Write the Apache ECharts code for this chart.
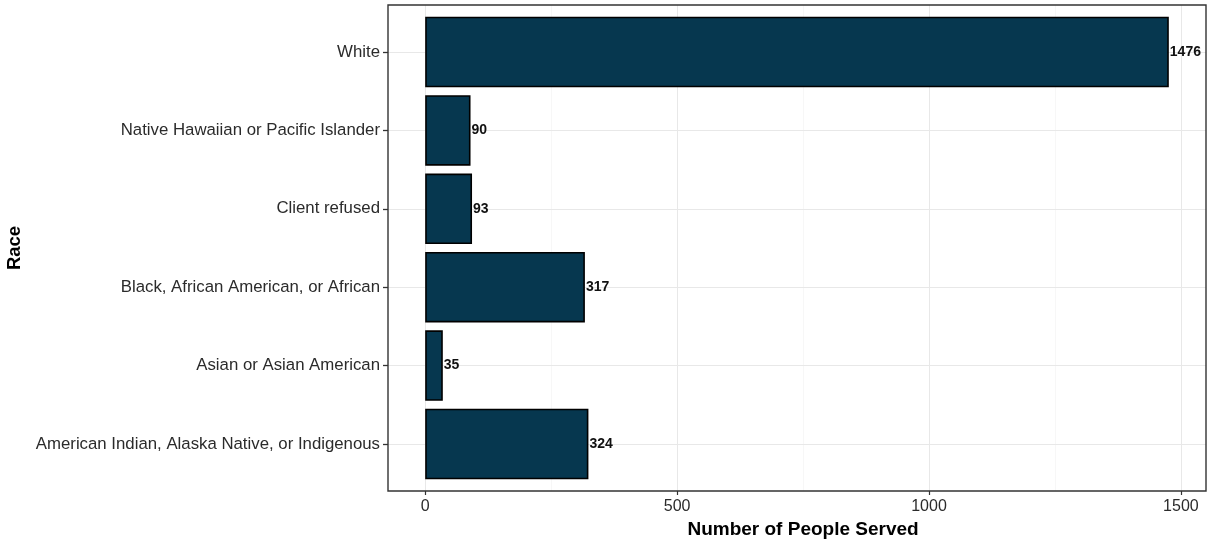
<!DOCTYPE html>
<html>
<head>
<meta charset="utf-8">
<script src="https://cdn.jsdelivr.net/npm/echarts@6/dist/echarts.min.js"></script>
<style>html,body{margin:0;padding:0;background:#fff}#c{width:1214px;height:543px}</style>
</head>
<body>
<div id="c"></div>
<script>
const categories = [
  "American Indian, Alaska Native, or Indigenous",
  "Asian or Asian American",
  "Black, African American, or African",
  "Client refused",
  "Native Hawaiian or Pacific Islander",
  "White"
];
const served = [324, 35, 317, 93, 90, 1476];
const xTicks = [0, 500, 1000, 1500];

const FONT = "Liberation Sans, Arial, sans-serif";
const xMinPad = -73.8, xMaxPad = 1549.8;

const chart = echarts.init(document.getElementById('c'), null, {renderer: 'canvas'});
chart.setOption({
  animation: false,
  backgroundColor: '#fff',
  grid: [
    // frame
    {left: 388, right: 8, top: 5, bottom: 52, show: true, borderColor: '#333', borderWidth: 1.4, backgroundColor: 'transparent', z: 5, outerBoundsMode: 'none', containLabel: false},
    // x axis ticks / vertical grid
    {left: 425.2, right: 33.1, top: 5, bottom: 52, outerBoundsMode: 'none', containLabel: false},
    // data
    {left: 388, right: 8, top: 12.84, bottom: 59.84, outerBoundsMode: 'none', containLabel: false}
  ],
  xAxis: [
    {gridIndex: 0, type: 'value', min: 0, max: 1, show: false},
    {gridIndex: 1, type: 'value', min: xTicks[0], max: xTicks[xTicks.length - 1], interval: 500,
     name: 'Number of People Served', nameLocation: 'middle', nameGap: 24,
     nameTextStyle: {fontFamily: FONT, fontSize: 19, fontWeight: 'bold', color: '#000'},
     axisLine: {show: false},
     axisTick: {show: true, length: 4, lineStyle: {color: '#333', width: 1.2}},
     axisLabel: {fontFamily: FONT, fontSize: 16, color: '#2b2b2b', margin: 8, formatter: v => String(v)},
     splitLine: {show: true, lineStyle: {color: '#e8e8e8', width: 1}},
     minorTick: {show: false, splitNumber: 2},
     minorSplitLine: {show: true, lineStyle: {color: '#f3f3f3', width: 0.7}}
    },
    {gridIndex: 2, type: 'value', min: xMinPad, max: xMaxPad, show: false}
  ],
  yAxis: [
    {gridIndex: 0, type: 'value', min: 0, max: 1, show: false},
    {gridIndex: 1, type: 'value', min: 0, max: 1, show: false},
    {gridIndex: 2, type: 'category', data: categories,
     name: 'Race', nameLocation: 'middle', nameGap: 358, nameRotate: 90,
     nameTextStyle: {fontFamily: FONT, fontSize: 18.5, fontWeight: 'bold', color: '#000'},
     axisLine: {show: false, onZero: false},
     axisTick: {show: true, alignWithLabel: true, length: 5, lineStyle: {color: '#333', width: 1.3}},
     axisLabel: {fontFamily: FONT, fontSize: 16.8, color: '#2b2b2b', margin: 8},
     splitLine: {show: false}
    },
    // horizontal gridlines at category centres (inside ticks spanning the panel)
    {gridIndex: 2, type: 'category', data: categories, position: 'left',
     axisLine: {show: false, onZero: false},
     axisLabel: {show: false},
     axisTick: {show: true, inside: true, alignWithLabel: true, length: 818, lineStyle: {color: '#e8e8e8', width: 1}},
     splitLine: {show: false}
    }
  ],
  series: [{
    type: 'bar',
    xAxisIndex: 2,
    yAxisIndex: 2,
    data: served,
    barWidth: '90%',
    z: 3,
    itemStyle: {color: '#06374f', borderColor: '#000', borderWidth: 1.6},
    label: {show: true, position: 'right', distance: 1, fontFamily: FONT, fontSize: 14, fontWeight: 'bold', color: '#111'}
  }]
});
</script>
</body>
</html>
